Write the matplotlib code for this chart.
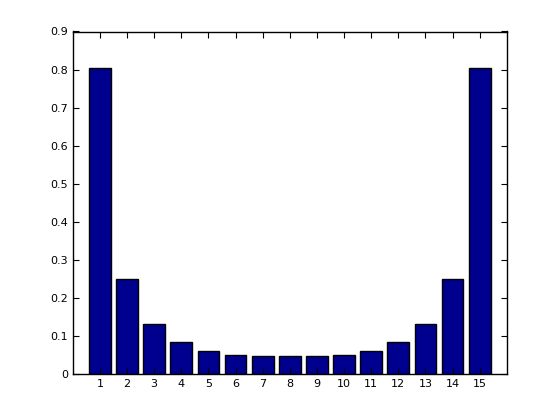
import matplotlib
matplotlib.use("Agg")
import matplotlib.pyplot as plt
import numpy as np

positions = list(range(1, 16))
values = [0.805, 0.25, 0.132, 0.084, 0.061, 0.050, 0.047, 0.046,
          0.047, 0.050, 0.061, 0.084, 0.132, 0.25, 0.805]
yticks = [0, 0.1, 0.2, 0.3, 0.4, 0.5, 0.6, 0.7, 0.8, 0.9]

fig = plt.figure(figsize=(5.6, 4.2), dpi=100)
ax = fig.add_axes([0.13, 0.11, 0.775, 0.815])
ax.bar(positions, values, width=0.8, color="#00008f", edgecolor="black", linewidth=1)

ax.set_xlim(0, 16)
ax.set_ylim(0, 0.9)
ax.set_xticks(positions)
ax.set_yticks(yticks)
ax.set_yticklabels(["0"] + [f"{v:.1f}" for v in yticks[1:]])
ax.tick_params(direction="in", top=True, right=True, labelsize=8, length=4)
for s in ax.spines.values():
    s.set_linewidth(1)

fig.savefig("out.png", dpi=100)
